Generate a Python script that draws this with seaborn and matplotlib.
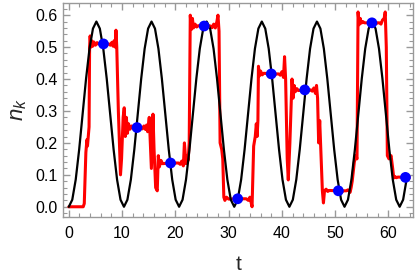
import seaborn as sns
import matplotlib.pyplot as plt
import numpy as np
import pandas as pd

# black reference curve, sampled every 0.647 in t
black_t = np.round(np.arange(99) * 0.647, 3)
black_n = [0, 0.022, 0.085, 0.179, 0.29, 0.401, 0.495, 0.558, 0.58, 0.558, 0.495, 0.401, 0.29, 0.179, 0.085, 0.022,
           0, 0.022, 0.085, 0.179, 0.29, 0.401, 0.495, 0.558, 0.58, 0.558, 0.495, 0.401, 0.29, 0.179, 0.085, 0.022,
           0, 0.022, 0.085, 0.179, 0.29, 0.401, 0.495, 0.558, 0.58, 0.558, 0.495, 0.401, 0.29, 0.179, 0.085, 0.022,
           0, 0.022, 0.085, 0.179, 0.29, 0.401, 0.495, 0.558, 0.58, 0.558, 0.495, 0.401, 0.29, 0.179, 0.085, 0.022,
           0, 0.022, 0.085, 0.179, 0.29, 0.401, 0.495, 0.558, 0.58, 0.558, 0.495, 0.401, 0.29, 0.179, 0.085, 0.022,
           0, 0.022, 0.085, 0.179, 0.29, 0.401, 0.495, 0.558, 0.58, 0.558, 0.495, 0.401, 0.29, 0.179, 0.085, 0.022,
           0, 0.022, 0.085]

# red stepped signal (t, n)
red_pts = [
    (0, 0), (2.7, 0), (2.9, 0.01), (3.2, 0.17), (3.4, 0.21), (3.5, 0.19), (3.65, 0.22), (3.8, 0.25),
    (3.9, 0.50), (4.0, 0.535), (4.15, 0.50), (4.3, 0.52), (4.5, 0.503), (4.7, 0.516), (5.0, 0.506),
    (5.3, 0.514), (5.5, 0.51), (6.5, 0.51), (7.5, 0.51), (7.8, 0.506), (8.1, 0.515), (8.3, 0.503),
    (8.5, 0.52), (8.7, 0.50), (8.85, 0.553), (9.0, 0.50),
    (9.3, 0.30), (9.7, 0.10), (9.9, 0.15), (10.2, 0.28), (10.4, 0.31), (10.6, 0.22), (10.8, 0.28),
    (11.0, 0.23), (11.2, 0.26), (11.5, 0.243), (11.8, 0.253), (12.1, 0.247), (12.8, 0.248), (13.5, 0.248),
    (13.8, 0.244), (14.1, 0.253), (14.4, 0.242), (14.6, 0.256), (14.8, 0.235), (15.1, 0.28),
    (15.3, 0.20), (15.5, 0.12), (15.8, 0.29), (16.0, 0.18), (16.3, 0.06), (16.6, 0.05), (16.8, 0.16),
    (17.0, 0.125), (17.3, 0.145), (17.6, 0.135), (19.1, 0.137), (20.6, 0.137), (20.9, 0.133), (21.2, 0.143),
    (21.5, 0.128), (21.7, 0.20), (22.0, 0.135), (22.2, 0.16), (22.4, 0.145),
    (22.6, 0.20), (22.8, 0.60), (23.0, 0.555), (23.2, 0.59), (23.4, 0.56), (23.7, 0.572), (24.0, 0.563),
    (24.3, 0.567), (25.5, 0.566), (26.6, 0.566), (26.9, 0.561), (27.2, 0.572), (27.5, 0.56), (27.8, 0.58),
    (28.0, 0.60), (28.2, 0.55), (28.4, 0.20), (28.7, 0.18), (28.9, 0.15),
    (29.1, 0.03), (29.3, 0.02), (29.6, 0.03), (30.0, 0.024), (31.6, 0.025), (33.3, 0.025), (33.7, 0.02),
    (34.0, 0.03), (34.4, 0.0), (34.7, 0.19), (35.0, 0.22), (35.2, 0.26), (35.35, 0.22), (35.5, 0.27),
    (35.6, 0.44), (35.8, 0.41), (36.0, 0.425), (36.3, 0.413), (36.6, 0.418),
    (38.0, 0.416), (39.4, 0.416), (39.7, 0.412), (40.0, 0.423), (40.3, 0.405), (40.5, 0.47), (40.7, 0.40),
    (41.0, 0.15), (41.2, 0.084), (41.5, 0.20), (41.9, 0.40), (42.1, 0.34), (42.3, 0.38), (42.5, 0.36),
    (42.8, 0.37), (43.1, 0.364), (44.3, 0.366), (45.4, 0.366), (45.7, 0.362),
    (46.0, 0.372), (46.3, 0.355), (46.5, 0.38), (46.7, 0.34), (46.9, 0.20), (47.1, 0.27), (47.3, 0.18),
    (47.6, 0.05), (47.8, 0.012), (48.0, 0.05), (48.3, 0.055), (48.6, 0.048), (48.9, 0.051), (50.5, 0.05),
    (52.1, 0.05), (52.4, 0.053), (52.8, 0.045), (53.0, 0.06), (53.2, 0.08),
    (53.6, 0.14), (53.9, 0.16), (54.1, 0.15), (54.3, 0.61), (54.5, 0.57), (54.7, 0.59), (54.9, 0.575),
    (55.2, 0.58), (55.5, 0.576), (56.9, 0.576), (58.3, 0.576), (58.6, 0.572), (58.9, 0.585), (59.2, 0.59),
    (59.4, 0.61), (59.6, 0.50), (59.8, 0.16), (60.1, 0.15), (60.5, 0.16), (60.8, 0.12), (61.0, 0.09),
    (61.2, 0.095), (61.5, 0.091), (61.8, 0.093), (63.2, 0.092), (63.8, 0.092),
]

# blue sampled points
dot_t = [6.5, 12.8, 19.1, 25.4, 31.7, 38.0, 44.3, 50.6, 56.9, 63.2]
dot_n = [0.51, 0.248, 0.137, 0.566, 0.025, 0.416, 0.366, 0.05, 0.576, 0.092]

sns.set_style("ticks")
plt.rcParams['font.family'] = ['Liberation Sans', 'DejaVu Sans']
plt.rcParams['mathtext.fontset'] = 'custom'
plt.rcParams['mathtext.it'] = 'Liberation Sans:italic'
plt.rcParams['mathtext.rm'] = 'Liberation Sans'

fig = plt.figure(figsize=(4.15, 2.76), dpi=100)
ax = fig.add_axes([0.153, 0.215, 0.842, 0.774])

black = pd.DataFrame({'t': black_t, 'n': black_n})
red = pd.DataFrame(red_pts, columns=['t', 'n'])
dots = pd.DataFrame({'t': dot_t, 'n': dot_n})

sns.lineplot(data=red, x='t', y='n', color='#ff0000', lw=2.2, estimator=None, sort=False, ax=ax)
sns.lineplot(data=black, x='t', y='n', color='black', lw=1.6, estimator=None, sort=False, ax=ax)
ax.errorbar(dot_t, dot_n, xerr=0.9, fmt='none', ecolor='#ff0000', elinewidth=2.2, zorder=4)
sns.scatterplot(data=dots, x='t', y='n', color='#0000ff', s=60, edgecolor='none', zorder=5, ax=ax)

ax.set_xlim(-1, 64.6)
ax.set_ylim(-0.031, 0.638)
ax.set_xticks(np.arange(0, 61, 10))
ax.set_xticks(np.arange(0, 65, 2), minor=True)
ax.set_yticks(np.arange(0, 0.61, 0.1))
ax.set_yticks(np.arange(-0.02, 0.63, 0.02), minor=True)
ax.set_yticklabels(['0.0', '0.1', '0.2', '0.3', '0.4', '0.5', '0.6'])

for s in ax.spines.values():
    s.set_color('#999999')
    s.set_linewidth(1.0)
ax.tick_params(which='both', direction='in', top=True, right=True, color='#999999',
               labelsize=11.5, labelcolor='black')
ax.tick_params(axis='x', which='both', pad=7)
ax.tick_params(axis='y', which='both', pad=4)
ax.tick_params(which='major', length=5, width=1.0)
ax.tick_params(which='minor', length=3, width=0.8)

ax.set_xlabel('t', fontsize=15, labelpad=10)
ax.set_ylabel('$n_k$', fontsize=16, labelpad=5)

fig.savefig('out.png', dpi=100)
